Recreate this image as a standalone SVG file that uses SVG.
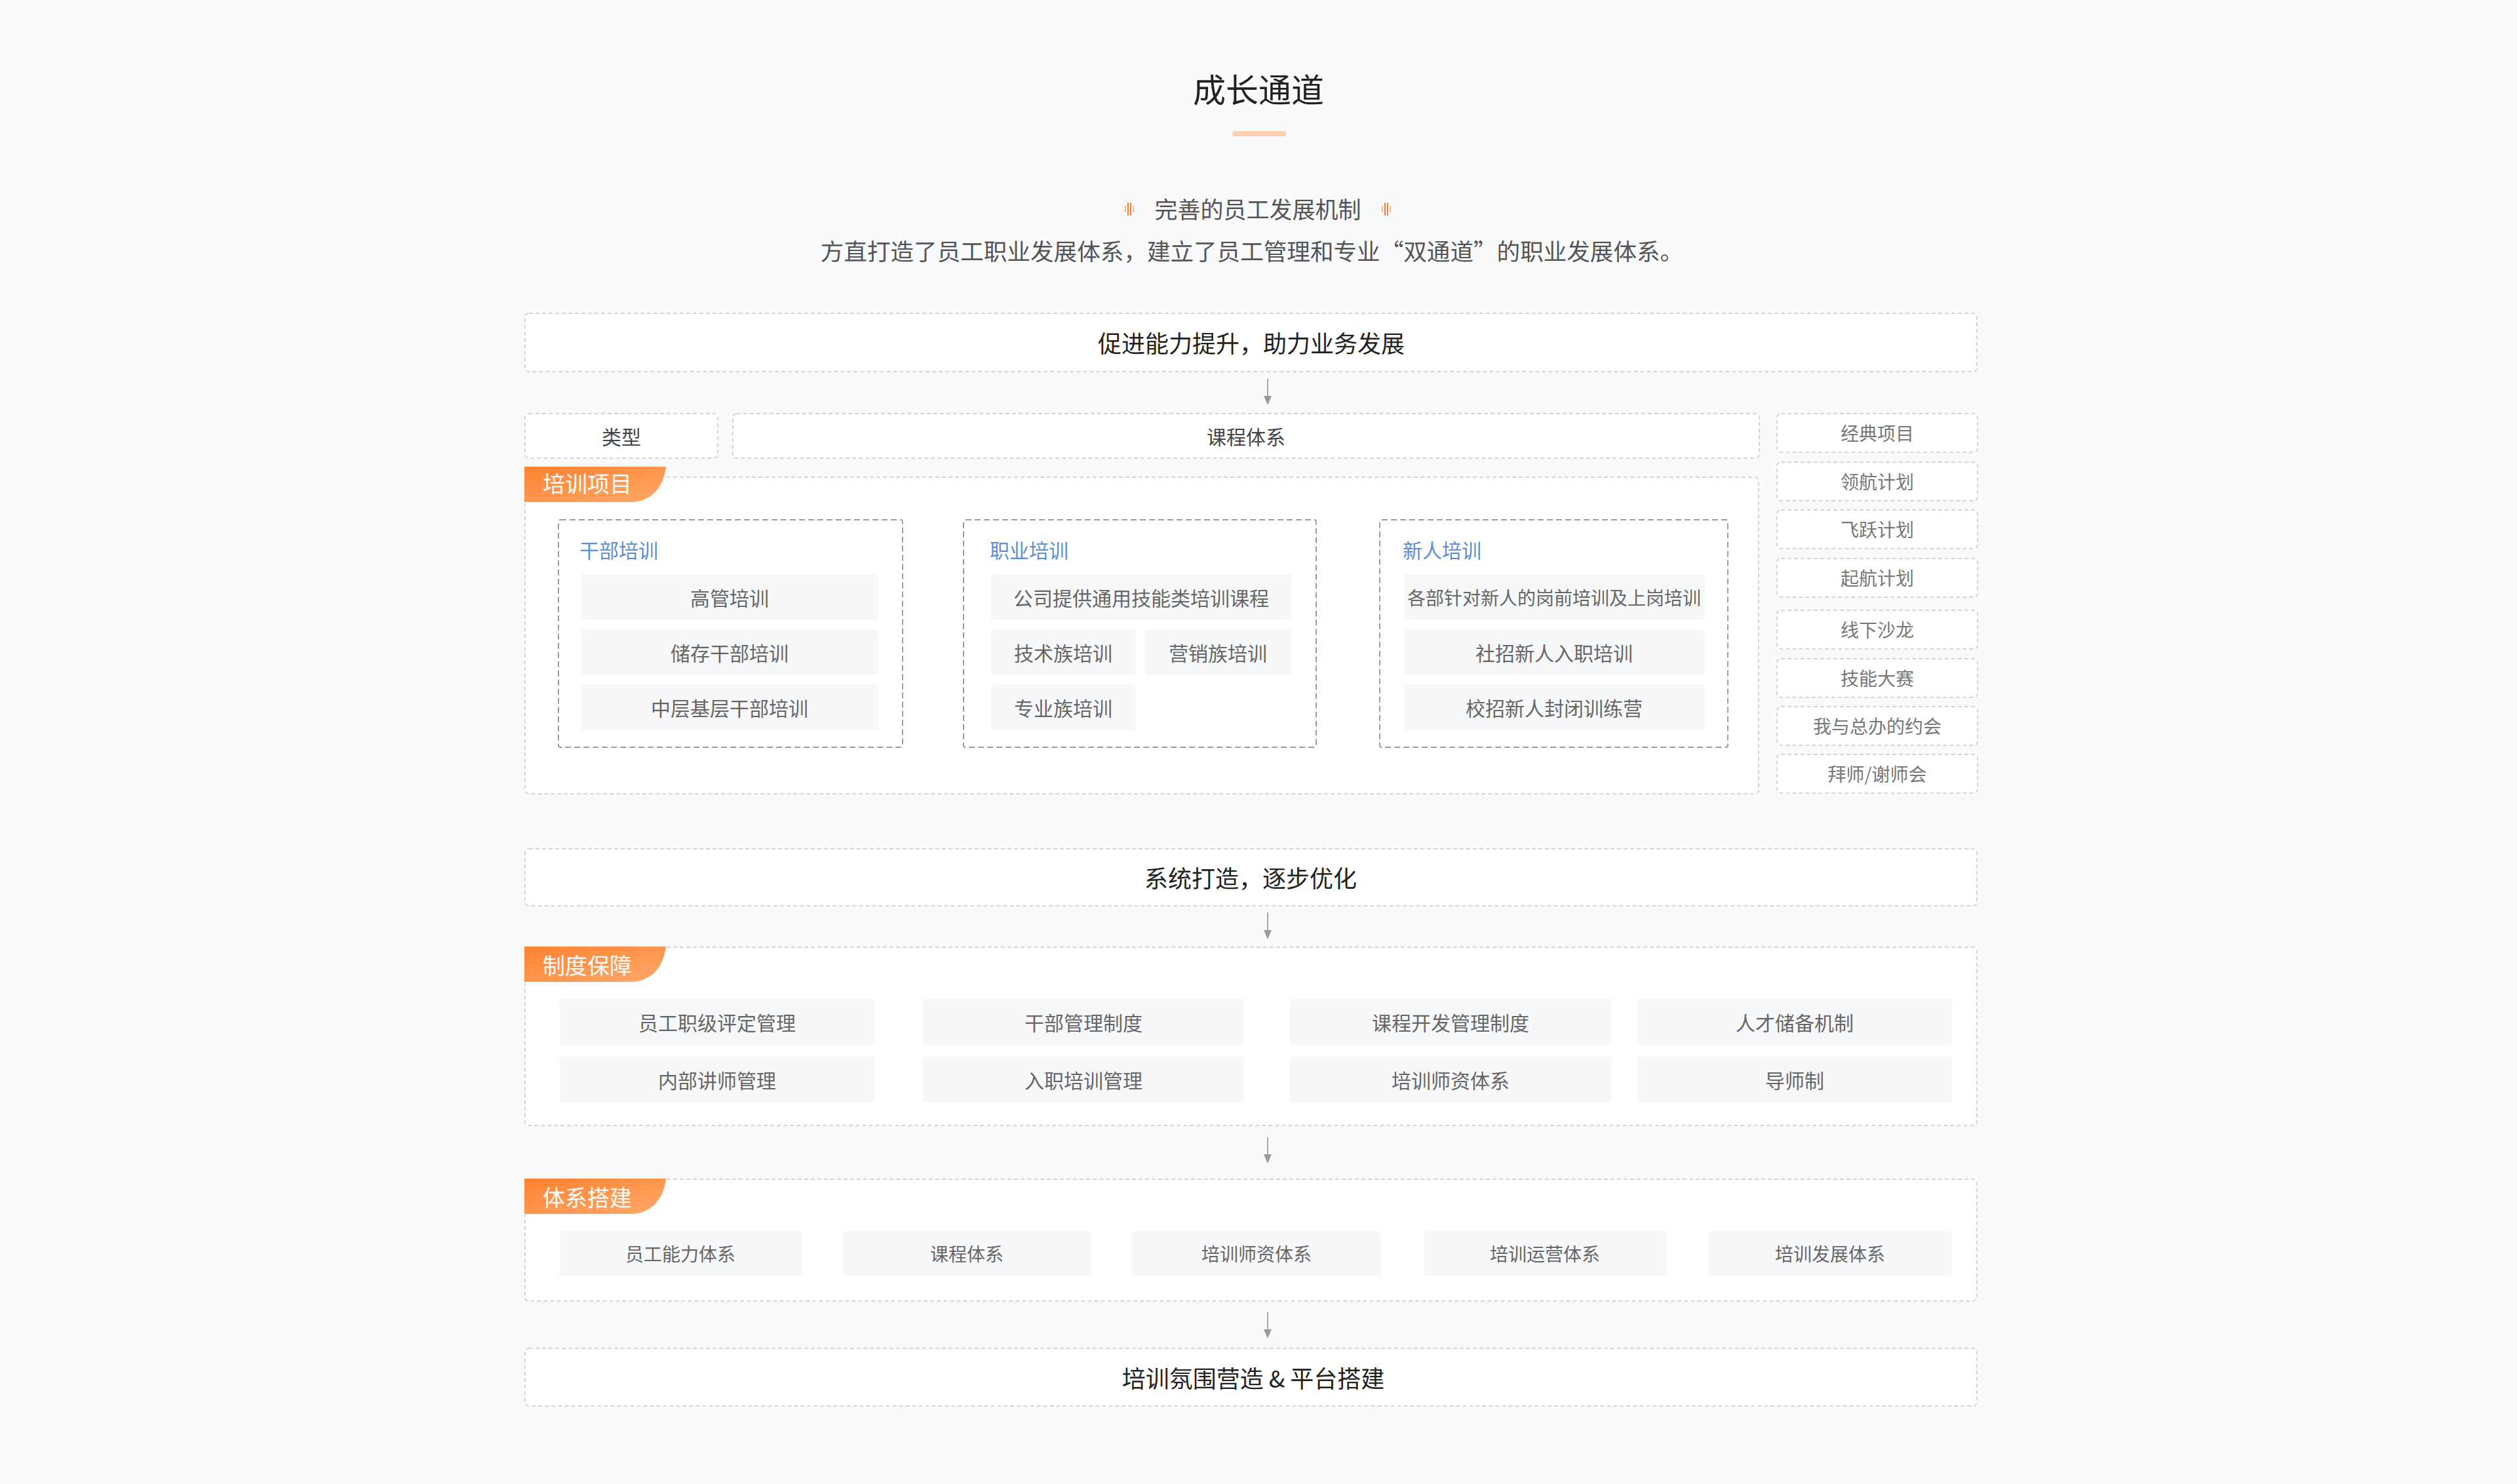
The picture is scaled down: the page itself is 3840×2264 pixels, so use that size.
<svg xmlns="http://www.w3.org/2000/svg" width="3840" height="2264" viewBox="0 0 3840 2264">
<defs>
<linearGradient id="tagGrad" x1="0" y1="0" x2="1" y2="1">
<stop offset="0" stop-color="#FF8230"/>
<stop offset="1" stop-color="#FFA96A"/>
</linearGradient>
</defs>
<style>
text{font-family:"Noto Sans CJK SC","Noto Sans",sans-serif;}
.outer{fill:#FFFFFF;stroke:#D6D6D6;stroke-width:2;stroke-dasharray:6 4;}
.grp{fill:#FFFFFF;stroke:#9C9C9C;stroke-width:2;stroke-dasharray:9 5;}
.item{fill:#F7F8FA;}
.main{font-size:36px;fill:#222222;text-anchor:middle;}
.it{font-size:30px;fill:#666666;text-anchor:middle;}
.its{font-size:28px;fill:#666666;text-anchor:middle;}
.hd{font-size:30px;fill:#5B8DD9;}
.tagt{font-size:34px;fill:#FFFFFF;}
.cls{font-size:28px;fill:#777777;text-anchor:middle;}
.conn{stroke:#A8A8A8;stroke-width:2;fill:none;}
.head{fill:#9A9A9A;}
</style>
<rect x="0" y="0" width="3840" height="2264" fill="#F9FAFC"/>

<g id="header">
<text x="1920" y="156" font-size="50" fill="#222222" text-anchor="middle">成长通道</text>
<rect x="1880" y="200" width="82" height="8" rx="4" fill="#FCD2B4"/>
<g stroke-linecap="round">
<line x1="1717" y1="315" x2="1717" y2="323" stroke="#FDB27E" stroke-width="2"/>
<line x1="1721" y1="310" x2="1721" y2="328" stroke="#F57C2A" stroke-width="2"/>
<line x1="1725" y1="310" x2="1725" y2="328" stroke="#F57C2A" stroke-width="2"/>
<line x1="1729" y1="315" x2="1729" y2="323" stroke="#FDB27E" stroke-width="2"/>
<line x1="2109" y1="315" x2="2109" y2="323" stroke="#FDB27E" stroke-width="2"/>
<line x1="2113" y1="310" x2="2113" y2="328" stroke="#F57C2A" stroke-width="2"/>
<line x1="2117" y1="310" x2="2117" y2="328" stroke="#F57C2A" stroke-width="2"/>
<line x1="2121" y1="315" x2="2121" y2="323" stroke="#FDB27E" stroke-width="2"/>
</g>
<text x="1919" y="333" font-size="35" fill="#555555" text-anchor="middle">完善的员工发展机制</text>
<text x="1910" y="397" font-size="35.6" fill="#555555" text-anchor="middle">方直打造了员工职业发展体系，建立了员工管理和专业“双通道”的职业发展体系。</text>
</g>

<g id="goal">
<rect class="outer" x="801" y="478" width="2215" height="89" rx="6"/>
<text class="main" x="1909" y="538">促进能力提升，助力业务发展</text>
</g>

<g id="type">
<rect class="outer" x="801" y="631" width="294" height="68" rx="6"/>
<text x="948" y="678" font-size="30" fill="#444444" text-anchor="middle">类型</text>
</g>
<g id="course">
<rect class="outer" x="1118" y="631" width="1566" height="68" rx="6"/>
<text x="1901" y="678" font-size="30" fill="#444444" text-anchor="middle">课程体系</text>
</g>

<g id="classic">
<rect class="outer" x="2711" y="631" width="306" height="59" rx="6"/>
<text class="cls" x="2864" y="672">经典项目</text>
<rect class="outer" x="2711" y="705" width="306" height="59" rx="6"/>
<text class="cls" x="2864" y="746">领航计划</text>
<rect class="outer" x="2711" y="778" width="306" height="59" rx="6"/>
<text class="cls" x="2864" y="819">飞跃计划</text>
<rect class="outer" x="2711" y="852" width="306" height="59" rx="6"/>
<text class="cls" x="2864" y="893">起航计划</text>
<rect class="outer" x="2711" y="931" width="306" height="59" rx="6"/>
<text class="cls" x="2864" y="972">线下沙龙</text>
<rect class="outer" x="2711" y="1005" width="306" height="59" rx="6"/>
<text class="cls" x="2864" y="1046">技能大赛</text>
<rect class="outer" x="2711" y="1078" width="306" height="59" rx="6"/>
<text class="cls" x="2864" y="1119">我与总办的约会</text>
<rect class="outer" x="2711" y="1151" width="306" height="59" rx="6"/>
<text class="cls" x="2864" y="1192">拜师/谢师会</text>
</g>

<g id="training">
<rect class="outer" x="801" y="728" width="1882" height="483" rx="6"/>
<path d="M800,712 H1016 C1012,745 992,766 962,766 H800 Z" fill="url(#tagGrad)"/>
<text class="tagt" x="828" y="751">培训项目</text>
</g>

<g id="cadre">
<rect class="grp" x="852" y="793" width="525" height="347" rx="3"/>
<text class="hd" x="884" y="851">干部培训</text>
<rect class="item" x="887" y="876" width="453" height="70" rx="4"/>
<text class="it" x="1113" y="924">高管培训</text>
<rect class="item" x="887" y="960" width="453" height="70" rx="4"/>
<text class="it" x="1113" y="1008">储存干部培训</text>
<rect class="item" x="887" y="1044" width="453" height="70" rx="4"/>
<text class="it" x="1113" y="1092">中层基层干部培训</text>
</g>

<g id="career">
<rect class="grp" x="1470" y="793" width="538" height="347" rx="3"/>
<text class="hd" x="1510" y="851">职业培训</text>
<rect class="item" x="1512" y="876" width="458" height="70" rx="4"/>
<text class="it" x="1741" y="924">公司提供通用技能类培训课程</text>
<rect class="item" x="1512" y="960" width="221" height="70" rx="4"/>
<text class="it" x="1622" y="1008">技术族培训</text>
<rect class="item" x="1747" y="960" width="223" height="70" rx="4"/>
<text class="it" x="1858" y="1008">营销族培训</text>
<rect class="item" x="1512" y="1044" width="221" height="70" rx="4"/>
<text class="it" x="1622" y="1092">专业族培训</text>
</g>

<g id="newcomer">
<rect class="grp" x="2105" y="793" width="531" height="347" rx="3"/>
<text class="hd" x="2140" y="851">新人培训</text>
<rect class="item" x="2142" y="876" width="459" height="70" rx="4"/>
<text class="its" x="2371" y="923">各部针对新人的岗前培训及上岗培训</text>
<rect class="item" x="2142" y="960" width="459" height="70" rx="4"/>
<text class="it" x="2371" y="1008">社招新人入职培训</text>
<rect class="item" x="2142" y="1044" width="459" height="70" rx="4"/>
<text class="it" x="2371" y="1092">校招新人封闭训练营</text>
</g>

<g id="optimize">
<rect class="outer" x="801" y="1295" width="2215" height="87" rx="6"/>
<text class="main" x="1908" y="1354">系统打造，逐步优化</text>
</g>

<g id="system">
<rect class="outer" x="801" y="1445" width="2215" height="272" rx="6"/>
<path d="M800,1444 H1016 C1012,1477 992,1498 962,1498 H800 Z" fill="url(#tagGrad)"/>
<text class="tagt" x="828" y="1486">制度保障</text>
<rect class="item" x="853" y="1524" width="482" height="70" rx="4"/>
<text class="it" x="1094" y="1572">员工职级评定管理</text>
<rect class="item" x="1408" y="1524" width="490" height="70" rx="4"/>
<text class="it" x="1653" y="1572">干部管理制度</text>
<rect class="item" x="1968" y="1524" width="491" height="70" rx="4"/>
<text class="it" x="2213" y="1572">课程开发管理制度</text>
<rect class="item" x="2497" y="1524" width="482" height="70" rx="4"/>
<text class="it" x="2738" y="1572">人才储备机制</text>
<rect class="item" x="853" y="1612" width="482" height="70" rx="4"/>
<text class="it" x="1094" y="1660">内部讲师管理</text>
<rect class="item" x="1408" y="1612" width="490" height="70" rx="4"/>
<text class="it" x="1653" y="1660">入职培训管理</text>
<rect class="item" x="1968" y="1612" width="491" height="70" rx="4"/>
<text class="it" x="2213" y="1660">培训师资体系</text>
<rect class="item" x="2497" y="1612" width="482" height="70" rx="4"/>
<text class="it" x="2738" y="1660">导师制</text>
</g>

<g id="framework">
<rect class="outer" x="801" y="1799" width="2215" height="186" rx="6"/>
<path d="M800,1798 H1016 C1012,1831 992,1852 962,1852 H800 Z" fill="url(#tagGrad)"/>
<text class="tagt" x="828" y="1840">体系搭建</text>
<rect class="item" x="853" y="1878" width="371" height="69" rx="4"/>
<text class="its" x="1038" y="1924">员工能力体系</text>
<rect class="item" x="1286" y="1878" width="379" height="69" rx="4"/>
<text class="its" x="1475" y="1924">课程体系</text>
<rect class="item" x="1727" y="1878" width="380" height="69" rx="4"/>
<text class="its" x="1917" y="1924">培训师资体系</text>
<rect class="item" x="2172" y="1878" width="371" height="69" rx="4"/>
<text class="its" x="2357" y="1924">培训运营体系</text>
<rect class="item" x="2606" y="1878" width="372" height="69" rx="4"/>
<text class="its" x="2792" y="1924">培训发展体系</text>
</g>

<g id="platform">
<rect class="outer" x="801" y="2057" width="2215" height="88" rx="6"/>
<text class="main" x="1912" y="2117">培训氛围营造 &amp; 平台搭建</text>
</g>

<g id="connectors">
<line class="conn" x1="1934" y1="578" x2="1934" y2="606"/>
<path class="head" d="M1928,604 L1940,604 L1934,618 Z"/>
<line class="conn" x1="1934" y1="1392" x2="1934" y2="1421"/>
<path class="head" d="M1928,1419 L1940,1419 L1934,1433 Z"/>
<line class="conn" x1="1934" y1="1735" x2="1934" y2="1763"/>
<path class="head" d="M1928,1761 L1940,1761 L1934,1775 Z"/>
<line class="conn" x1="1934" y1="2002" x2="1934" y2="2030"/>
<path class="head" d="M1928,2028 L1940,2028 L1934,2042 Z"/>
</g>
</svg>
